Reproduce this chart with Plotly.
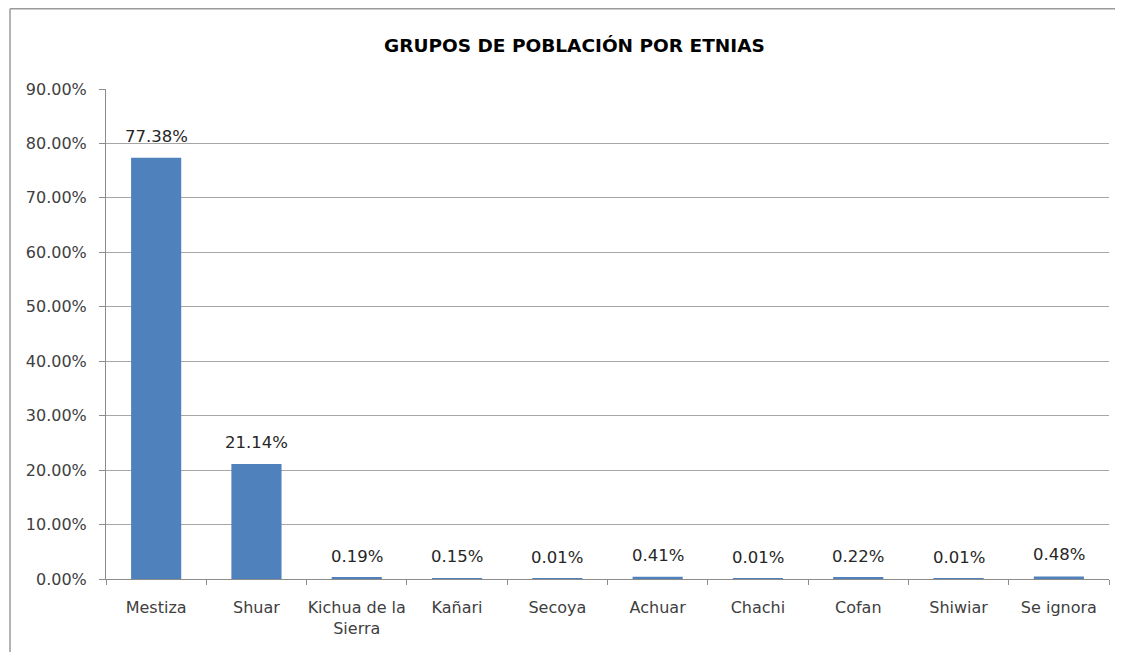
import plotly.graph_objects as go

# Datos
categorias = ["Mestiza", "Shuar", "Kichua de la<br>Sierra", "Kañari", "Secoya",
              "Achuar", "Chachi", "Cofan", "Shiwiar", "Se ignora"]
porcentajes = [77.38, 21.14, 0.19, 0.15, 0.01, 0.41, 0.01, 0.22, 0.01, 0.48]
etiquetas = ["77.38%", "21.14%", "0.19%", "0.15%", "0.01%",
             "0.41%", "0.01%", "0.22%", "0.01%", "0.48%"]
ticks_y = [0, 10, 20, 30, 40, 50, 60, 70, 80, 90]
ticks_y_texto = ["0.00%", "10.00%", "20.00%", "30.00%", "40.00%",
                 "50.00%", "60.00%", "70.00%", "80.00%", "90.00%"]

# la pagina tiene 8px de margen en el body
W, H = 1115, 644
L, R, T, B = 98, 14, 81, 73
pw, ph = W - L - R, H - T - B


def px_x(x):
    return (x - L) / pw


def px_y(y):
    return (H - B - y) / ph


fuente = "DejaVu Sans"
gris = "#404040"

fig = go.Figure()
fig.add_trace(go.Bar(
    x=categorias,
    y=porcentajes,
    marker=dict(color="#4F81BD", line=dict(width=0)),
    hoverinfo="skip",
))

# Etiquetas de datos encima de cada barra
for cat, val, txt in zip(categorias, porcentajes, etiquetas):
    fig.add_annotation(
        x=cat, y=val, text=txt, showarrow=False,
        yanchor="bottom", yshift=10,
        font=dict(family=fuente, size=16.5, color="#262626"),
    )

# Titulo
fig.add_annotation(
    x=px_x(566), y=px_y(37), xref="paper", yref="paper",
    xanchor="center", yanchor="middle",
    text="<b>GRUPOS DE POBLACIÓN POR ETNIAS</b>", showarrow=False,
    font=dict(family=fuente, size=18.5, color="#000000"),
)

# Borde del area del grafico (recortado)
borde = dict(color="#9a9a9a", width=1.5)
fig.add_shape(type="line", xref="paper", yref="paper",
              x0=px_x(2), x1=px_x(W + 5), y0=px_y(0.75), y1=px_y(0.75), line=borde)
fig.add_shape(type="line", xref="paper", yref="paper",
              x0=px_x(2), x1=px_x(2), y0=px_y(0.75), y1=px_y(H + 5), line=borde)

fig.update_layout(
    width=W, height=H,
    margin=dict(l=L, r=R, t=T, b=B),
    paper_bgcolor="white", plot_bgcolor="white",
    bargap=0.5,
    showlegend=False,
    font=dict(family=fuente, size=16, color=gris),
)
fig.update_xaxes(
    type="category",
    tickson="boundaries",
    ticks="outside", ticklen=5, tickcolor="#8c8c8c",
    showline=True, linecolor="#8c8c8c", linewidth=1,
    showgrid=False,
    tickfont=dict(family=fuente, size=16, color=gris),
    tickangle=0,
    ticklabelstandoff=14,
)
fig.update_yaxes(
    range=[0, 90],
    tickvals=ticks_y,
    ticktext=ticks_y_texto,
    ticks="outside", ticklen=6, tickcolor="#8c8c8c",
    showline=True, linecolor="#8c8c8c", linewidth=1,
    showgrid=True, gridcolor="#a6a6a6", gridwidth=1,
    zeroline=False,
    tickfont=dict(family=fuente, size=16, color=gris),
    ticklabelstandoff=9,
)

fig.write_html("out.html")
